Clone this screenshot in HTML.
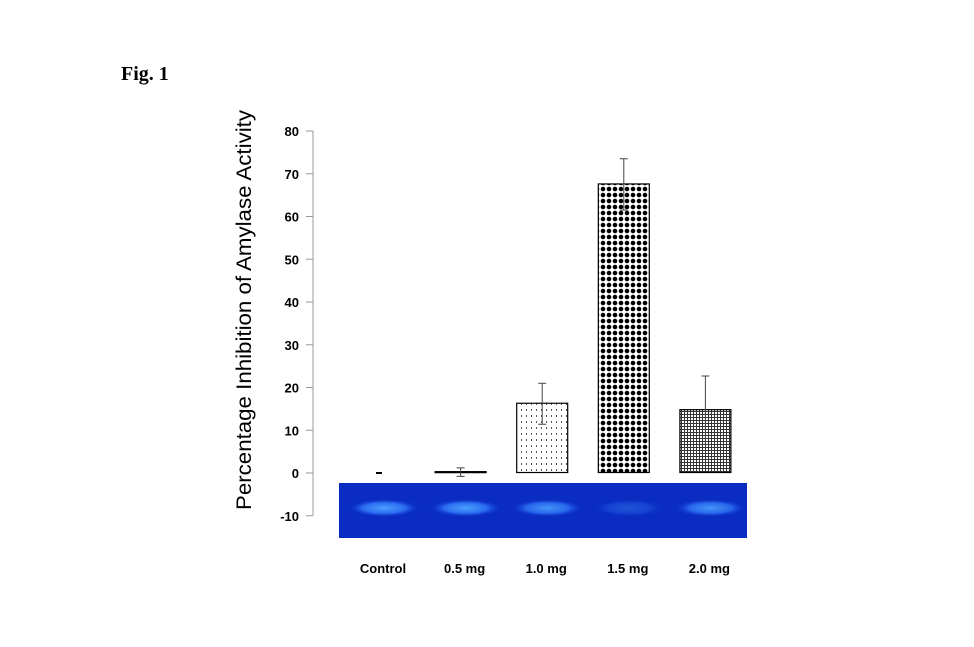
<!DOCTYPE html>
<html><head><meta charset="utf-8"><style>
body{margin:0;background:#fff;overflow:hidden;}
svg{display:block;}
</style></head><body>
<svg width="974" height="647" viewBox="0 0 974 647" xmlns="http://www.w3.org/2000/svg">
<defs>
<pattern id="pDots" width="5" height="6" patternUnits="userSpaceOnUse"><rect width="5" height="6" fill="#fff"/><rect x="1" y="1" width="1" height="2" fill="#555"/></pattern>
<pattern id="pDiamond" width="6" height="6" patternUnits="userSpaceOnUse"><rect width="6" height="6" fill="#fff"/><circle cx="3" cy="3" r="2.3" fill="#000"/></pattern>
<pattern id="pGrid" width="3" height="3" patternUnits="userSpaceOnUse"><rect width="3" height="3" fill="#fff"/><rect width="3" height="1" fill="#333"/><rect width="1" height="3" fill="#333"/></pattern>
<radialGradient id="band" cx="0.5" cy="0.5" r="0.5"><stop offset="0" stop-color="#4aa0ff"/><stop offset="0.6" stop-color="#2a6cf0"/><stop offset="1" stop-color="#0a2fd0" stop-opacity="0"/></radialGradient>
</defs>
<text x="121" y="80" font-family="Liberation Sans, sans-serif" font-weight="bold" font-size="20" style="font-family:'Liberation Serif',serif">Fig. 1</text>
<text transform="translate(251,310) rotate(-90)" text-anchor="middle" font-family="Liberation Sans, sans-serif" font-size="21" textLength="400" lengthAdjust="spacingAndGlyphs">Percentage Inhibition of Amylase Activity</text>
<g id="chart"></g>
</svg>
<script>
const categories=["Control","0.5 mg","1.0 mg","1.5 mg","2.0 mg"];
const values=[0,0.2,16.2,67.5,14.7];
const errors=[0,1,4.8,6,8];
const yTicks=[-10,0,10,20,30,40,50,60,70,80];
const bandIntensity=[1,1,0.9,0.35,0.9];
const fills=["none","#fff","url(#pDots)","url(#pDiamond)","url(#pGrid)"];
const NS="http://www.w3.org/2000/svg";
const g=document.getElementById('chart');
const y=v=>473-v*4.275;
const x=i=>379+i*81.6;
function mk(t,a){const e=document.createElementNS(NS,t);for(const k in a)e.setAttribute(k,a[k]);g.appendChild(e);return e;}
let ax=mk('line',{x1:313,x2:313,y1:y(80),y2:y(-10),stroke:'#999','stroke-width':1});


yTicks.forEach(t=>{
 let l=mk('line',{x1:306,x2:313,y1:y(t),y2:y(t),stroke:'#999'});
 
 
 let tx=mk('text',{x:299,y:y(t)+5,'text-anchor':'end','font-family':'Liberation Sans, sans-serif','font-weight':'bold','font-size':13});
 tx.textContent=t;
 
 
});
categories.forEach((c,i)=>{
 const v=values[i];
 if(i===0){
  let d=mk('line',{x1:x(i)-3,x2:x(i)+3,y1:y(v),y2:y(v),stroke:'#000','stroke-width':2});
  
  
 } else {
  let r=mk('rect',{x:x(i)-25.5,y:Math.min(y(v),y(0))-0.5,width:51,height:Math.max(Math.abs(y(0)-y(v)),1),fill:fills[i],stroke:'#000','stroke-width':1.2});
  
  
  let e=mk('path',{d:`M${x(i)} ${y(v-errors[i])}V${y(v+errors[i])}M${x(i)-4} ${y(v+errors[i])}H${x(i)+4}M${x(i)-4} ${y(v-errors[i])}H${x(i)+4}`,stroke:'#444','stroke-width':1,fill:'none'});
  
  
 }
});
let gel=mk('rect',{x:339,y:483,width:408,height:55,fill:'#0a2cc0'});


categories.forEach((c,i)=>{
 let b=mk('ellipse',{cx:x(i)+5,cy:508,rx:36,ry:9,fill:'url(#band)',opacity:bandIntensity[i]});
 
 
 let t=mk('text',{x:x(i)+4,y:573,'text-anchor':'middle','font-family':'Liberation Sans, sans-serif','font-weight':'bold','font-size':13});
 t.textContent=c;
 
 
});
</script>
</body></html>
